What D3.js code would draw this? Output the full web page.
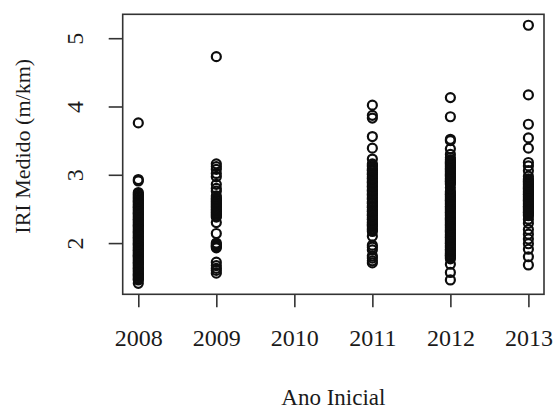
<!DOCTYPE html>
<html>
<head>
<meta charset="utf-8">
<script src="https://cdn.jsdelivr.net/npm/d3@7"></script>
<style>
  html, body { margin: 0; padding: 0; background: #fff; }
  svg { display: block; }
  text { font-family: "Liberation Serif", "Times New Roman", serif; fill: #1a1a1a; }
</style>
</head>
<body>
<svg id="chart" width="553" height="410"></svg>
<script>
// Ano inicial (x) and measured IRI values (m/km) for each starting year
const years = [2008, 2009, 2010, 2011, 2012, 2013];
const yTicks = [2, 3, 4, 5];

const iri2008 = [1.41, 1.46, 1.47, 1.49, 1.51, 1.53, 1.54, 1.56, 1.58, 1.60, 1.62, 1.63, 1.65, 1.67,
  1.69, 1.71, 1.72, 1.74, 1.76, 1.78, 1.80, 1.81, 1.83, 1.85, 1.87, 1.89, 1.90, 1.92, 1.94, 1.96,
  1.98, 1.99, 2.01, 2.03, 2.05, 2.07, 2.08, 2.10, 2.12, 2.14, 2.16, 2.17, 2.19, 2.21, 2.23, 2.25,
  2.26, 2.28, 2.30, 2.32, 2.34, 2.35, 2.37, 2.39, 2.41, 2.43, 2.44, 2.46, 2.48, 2.50, 2.52, 2.53,
  2.55, 2.57, 2.59, 2.61, 2.62, 2.64, 2.66, 2.68, 2.70, 2.72, 2.74, 2.91, 2.93, 3.76];
const iri2009 = [1.56, 1.60, 1.63, 1.67, 1.72, 1.93, 1.95, 1.96, 1.98, 2.00, 2.14, 2.30, 2.38, 2.40,
  2.42, 2.44, 2.46, 2.48, 2.50, 2.52, 2.54, 2.56, 2.58, 2.60, 2.62, 2.64, 2.66, 2.69, 2.76, 2.80,
  2.86, 2.97, 3.02, 3.08, 3.12, 3.16, 4.73];
const iri2010 = [];
const iri2011 = [1.71, 1.74, 1.78, 1.81, 1.90, 1.94, 1.97, 2.10, 2.17, 2.19, 2.21, 2.24, 2.26, 2.27,
  2.29, 2.31, 2.34, 2.35, 2.37, 2.40, 2.41, 2.43, 2.46, 2.47, 2.49, 2.52, 2.53, 2.55, 2.58, 2.59,
  2.61, 2.64, 2.65, 2.67, 2.70, 2.71, 2.73, 2.76, 2.77, 2.79, 2.82, 2.83, 2.85, 2.88, 2.89, 2.91,
  2.94, 2.95, 2.97, 3.00, 3.01, 3.03, 3.06, 3.07, 3.09, 3.12, 3.14, 3.16, 3.23, 3.39, 3.56, 3.83,
  3.87, 4.02];
const iri2012 = [1.46, 1.57, 1.69, 1.77, 1.79, 1.81, 1.82, 1.84, 1.86, 1.88, 1.90, 1.91, 1.93, 1.95,
  1.97, 1.99, 2.00, 2.02, 2.04, 2.06, 2.08, 2.09, 2.11, 2.13, 2.15, 2.17, 2.18, 2.20, 2.22, 2.24,
  2.26, 2.27, 2.29, 2.31, 2.33, 2.35, 2.36, 2.38, 2.40, 2.42, 2.44, 2.45, 2.47, 2.49, 2.51, 2.53,
  2.54, 2.56, 2.58, 2.60, 2.62, 2.63, 2.65, 2.67, 2.69, 2.71, 2.72, 2.74, 2.76, 2.81, 2.86, 2.88,
  2.90, 2.91, 2.93, 2.95, 2.97, 2.99, 3.00, 3.02, 3.04, 3.06, 3.08, 3.09, 3.11, 3.13, 3.15, 3.17,
  3.18, 3.20, 3.22, 3.25, 3.30, 3.38, 3.50, 3.52, 3.85, 4.13];
const iri2013 = [1.68, 1.80, 1.91, 1.99, 2.06, 2.13, 2.20, 2.29, 2.35, 2.40, 2.42, 2.44, 2.45, 2.47,
  2.49, 2.51, 2.53, 2.54, 2.56, 2.58, 2.60, 2.62, 2.63, 2.65, 2.67, 2.69, 2.71, 2.72, 2.74, 2.76,
  2.78, 2.80, 2.81, 2.83, 2.85, 2.87, 2.89, 2.90, 2.92, 2.94, 2.98, 3.06, 3.13, 3.18, 3.39, 3.54,
  3.74, 4.17, 5.19];

const seriesByYear = [iri2008, iri2009, iri2010, iri2011, iri2012, iri2013];
const points = [];
years.forEach((yr, i) => seriesByYear[i].forEach(v => points.push({ year: yr, iri: v })));

const svg = d3.select("#chart");
const plot = { left: 122.7, right: 544, top: 14.3, bottom: 294.3 };

const x = d3.scaleLinear().domain([2007.8, 2013.2]).range([plot.left, plot.right]);
const y = d3.scaleLinear().domain([1.25, 5.35]).range([plot.bottom, plot.top]);

// frame around the plotting region
svg.append("rect")
  .attr("x", plot.left).attr("y", plot.top)
  .attr("width", plot.right - plot.left).attr("height", plot.bottom - plot.top)
  .attr("fill", "none").attr("stroke", "#333").attr("stroke-width", 1.6);

// x axis
const xAxis = svg.append("g")
  .attr("transform", `translate(0,${plot.bottom})`)
  .call(d3.axisBottom(x).tickValues(years).tickFormat(d3.format("d")).tickSize(13).tickPadding(22));
xAxis.select(".domain").remove();
xAxis.selectAll(".tick line").attr("stroke", "#333").attr("stroke-width", 1.6);
xAxis.selectAll(".tick text")
  .attr("font-size", 24).attr("fill", "#1a1a1a")
  .style("font-family", "'Liberation Serif', serif");

// y axis with vertical labels
const yAxis = svg.append("g")
  .attr("transform", `translate(${plot.left},0)`)
  .call(d3.axisLeft(y).tickValues(yTicks).tickFormat(d3.format("d")).tickSize(14));
yAxis.select(".domain").remove();
yAxis.selectAll(".tick line").attr("stroke", "#333").attr("stroke-width", 1.6);
yAxis.selectAll(".tick text")
  .attr("font-size", 24).attr("fill", "#1a1a1a")
  .attr("x", 0).attr("dy", 0)
  .attr("text-anchor", "middle")
  .attr("transform", "translate(-40,0) rotate(-90)")
  .style("font-family", "'Liberation Serif', serif");

// axis titles
svg.append("text")
  .attr("x", x(2010.5)).attr("y", 405)
  .attr("text-anchor", "middle").attr("font-size", 23)
  .text("Ano Inicial");
svg.append("text")
  .attr("transform", `translate(30,${(plot.top + plot.bottom) / 2 - 8}) rotate(-90)`)
  .attr("text-anchor", "middle").attr("font-size", 22)
  .text("IRI Medido (m/km)");

// open circles, one per measured segment
svg.append("g")
  .selectAll("circle")
  .data(points)
  .join("circle")
  .attr("cx", d => x(d.year))
  .attr("cy", d => y(d.iri))
  .attr("r", 4.5)
  .attr("fill", "none")
  .attr("stroke", "#0d0d0d")
  .attr("stroke-width", 2.2);
</script>
</body>
</html>
